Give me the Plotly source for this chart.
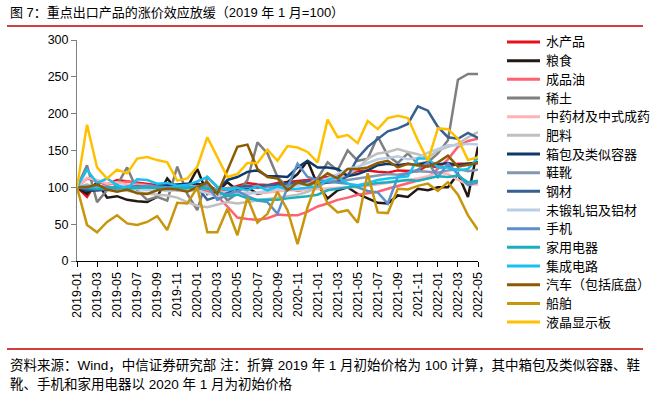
import plotly.graph_objects as go

months = [f"{y}-{m:02d}" for y in (2019, 2020, 2021, 2022) for m in range(1, 13)][:41]

shuichanpin = [100, 87, 108, 104, 110, 108, 106, 105, 103, 102, 101, 100, 101, 96, 95, 97, 102, 106, 104, 103, 106, 107, 108, 110, 112, 114, 116, 118, 122, 123, 121, 120, 123, 123, 122, 130, 127, 128, 132, 132, 133]
liangshi = [100, 91, 107, 86, 88, 83, 81, 80, 87, 112, 96, 100, 125, 91, 94, 107, 96, 100, 91, 94, 103, 107, 118, 136, 103, 85, 96, 100, 91, 85, 79, 78, 89, 87, 98, 96, 100, 100, 118, 87, 155]
chengpinyou = [100, 112, 108, 104, 106, 108, 105, 103, 102, 100, 97, 99, 100, 95, 88, 74, 59, 57, 56, 58, 63, 62, 62, 67, 74, 78, 83, 86, 90, 92, 94, 98, 102, 106, 110, 113, 125, 138, 155, 163, 166]
xitu = [100, 130, 80, 96, 103, 127, 96, 83, 87, 82, 128, 91, 69, 114, 100, 82, 92, 110, 161, 146, 114, 100, 95, 98, 112, 134, 123, 150, 136, 139, 169, 143, 133, 146, 132, 134, 146, 164, 246, 254, 254]
zhongyao = [100, 113, 110, 105, 107, 104, 103, 102, 100, 99, 100, 99, 100, 97, 95, 93, 92, 93, 92, 93, 95, 96, 96, 97, 98, 99, 100, 100, 100, 102, 104, 106, 108, 110, 112, 115, 120, 118, 110, 104, 104]
feiliao = [100, 104, 99, 96, 97, 95, 93, 92, 90, 89, 86, 80, 75, 73, 76, 80, 78, 80, 82, 84, 86, 88, 90, 94, 100, 108, 112, 118, 125, 139, 146, 148, 152, 148, 145, 140, 150, 155, 159, 168, 175]
xiangbao = [100, 95, 96, 97, 98, 99, 100, 101, 102, 103, 104, 105, 105, 103, 96, 110, 114, 121, 123, 115, 115, 114, 127, 136, 127, 127, 125, 115, 118, 123, 130, 132, 130, 132, 130, 134, 131, 133, 130, 132, 134]
xiexue = [100, 102, 100, 101, 99, 100, 102, 101, 100, 99, 100, 101, 100, 98, 97, 99, 100, 101, 99, 100, 102, 103, 104, 105, 106, 107, 108, 110, 112, 113, 115, 118, 117, 120, 122, 121, 120, 123, 125, 122, 124]
gangcai = [100, 97, 96, 97, 98, 100, 101, 100, 99, 98, 97, 99, 100, 83, 88, 92, 100, 102, 100, 103, 104, 105, 106, 108, 105, 106, 108, 115, 140, 155, 165, 176, 180, 186, 210, 204, 182, 168, 166, 174, 167]
lvcai = [100, 101, 100, 98, 99, 97, 98, 96, 97, 95, 96, 95, 96, 92, 88, 90, 92, 91, 93, 95, 97, 99, 102, 105, 108, 112, 118, 125, 128, 133, 138, 140, 142, 138, 140, 147, 152, 157, 157, 159, 158]
shouji = [100, 101, 102, 100, 99, 101, 100, 102, 101, 100, 99, 100, 100, 103, 83, 90, 95, 88, 82, 80, 64, 100, 132, 114, 110, 108, 106, 105, 100, 95, 93, 78, 114, 119, 124, 134, 114, 132, 118, 103, 107]
jiadian = [100, 99, 98, 99, 100, 98, 99, 100, 99, 98, 99, 100, 100, 98, 95, 88, 90, 85, 83, 83, 83, 85, 86, 88, 90, 96, 98, 100, 102, 104, 106, 107, 108, 110, 109, 112, 115, 114, 116, 107, 109]
jicheng = [100, 124, 106, 112, 103, 99, 111, 110, 105, 106, 102, 103, 108, 114, 101, 96, 99, 96, 102, 96, 101, 97, 98, 99, 101, 110, 114, 105, 103, 106, 110, 112, 113, 115, 139, 139, 127, 127, 123, 125, 140]
qiche = [100, 100, 104, 97, 94, 97, 92, 91, 96, 98, 97, 94, 100, 107, 91, 123, 155, 158, 125, 114, 112, 96, 107, 103, 109, 119, 112, 125, 125, 127, 133, 136, 127, 132, 130, 128, 134, 143, 128, 130, 133]
chuanbo = [100, 49, 39, 53, 62, 51, 49, 53, 61, 42, 79, 78, 100, 39, 39, 71, 35, 86, 52, 64, 94, 69, 23, 73, 110, 78, 66, 69, 52, 119, 66, 65, 98, 97, 102, 105, 95, 107, 90, 62, 42]
yejing = [100, 185, 127, 112, 124, 119, 139, 141, 137, 134, 109, 112, 128, 168, 141, 114, 118, 133, 133, 151, 136, 156, 154, 148, 134, 192, 168, 171, 160, 190, 179, 194, 197, 194, 164, 136, 180, 179, 166, 137, 141]

series = [
    ("水产品", shuichanpin, "#E8111B"),
    ("粮食", liangshi, "#231815"),
    ("成品油", chengpinyou, "#FF6170"),
    ("稀土", xitu, "#7F7F7F"),
    ("中药材及中式成药", zhongyao, "#FFB3B7"),
    ("肥料", feiliao, "#BFBFBF"),
    ("箱包及类似容器", xiangbao, "#0E3A6B"),
    ("鞋靴", xiexue, "#8497B0"),
    ("钢材", gangcai, "#376092"),
    ("未锻轧铝及铝材", lvcai, "#B9CDE5"),
    ("手机", shouji, "#5E8FC9"),
    ("家用电器", jiadian, "#18B0C0"),
    ("集成电路", jicheng, "#18C0F0"),
    ("汽车（包括底盘）", qiche, "#8C5B00"),
    ("船舶", chuanbo, "#C8960C"),
    ("液晶显示板", yejing, "#FFC000"),
]

title_text = "图 7：重点出口产品的涨价效应放缓（2019 年 1 月=100）"
note1 = "资料来源：Wind，中信证券研究部 注：折算 2019 年 1 月初始价格为 100 计算，其中箱包及类似容器、鞋"
note2 = "靴、手机和家用电器以 2020 年 1 月为初始价格"

FONT = "Liberation Sans, Arial, Noto Sans CJK SC, sans-serif"
L, R, T, B = 77, 478, 40, 261
W, H = 659, 394

def px(xp):
    return (xp - L) / (R - L)

def py(yp):
    return (B - yp) / (B - T)

fig = go.Figure()
for name, vals, color in series:
    fig.add_trace(go.Scatter(x=months, y=vals, name=name, mode="lines",
                             line=dict(color=color, width=2.5), showlegend=False))

shapes = [
    dict(type="line", xref="paper", yref="paper", x0=px(7), x1=px(643),
         y0=py(26), y1=py(26), line=dict(color="#C00000", width=1.5)),
    dict(type="line", xref="paper", yref="paper", x0=px(7), x1=px(643),
         y0=py(349), y1=py(349), line=dict(color="#C00000", width=1.5)),
]
annotations = [
    dict(text=title_text, xref="paper", yref="paper", x=px(8), y=py(13),
         xanchor="left", yanchor="middle", showarrow=False,
         font=dict(size=13, family=FONT)),
    dict(text=note1, xref="paper", yref="paper", x=px(8), y=py(365),
         xanchor="left", yanchor="middle", showarrow=False,
         font=dict(size=13.5, family=FONT)),
    dict(text=note2, xref="paper", yref="paper", x=px(8), y=py(384),
         xanchor="left", yanchor="middle", showarrow=False,
         font=dict(size=13.5, family=FONT)),
]

# legend (drawn as keys + labels on the right)
for i, (name, vals, color) in enumerate(series):
    yk = 42 + i * 18.67
    shapes.append(dict(type="line", xref="paper", yref="paper",
                       x0=px(507), x1=px(540), y0=py(yk), y1=py(yk),
                       line=dict(color=color, width=3)))
    annotations.append(dict(text=name, xref="paper", yref="paper",
                            x=px(544), y=py(yk), xanchor="left", yanchor="middle",
                            showarrow=False, font=dict(size=13, family=FONT)))

fig.update_layout(
    width=W, height=H,
    margin=dict(l=L, r=W - R, t=T, b=H - B),
    paper_bgcolor="white", plot_bgcolor="white",
    font=dict(family=FONT, size=13, color="#000"),
    showlegend=False,
    xaxis=dict(type="category", range=[0, 40], showgrid=False, showline=True,
               linecolor="#000", linewidth=1, ticks="outside", ticklen=5,
               tickcolor="#000", tickvals=months[::2], ticktext=months[::2],
               tickangle=-90, tickfont=dict(size=12.5), zeroline=False,
               automargin=False),
    yaxis=dict(range=[0, 300], dtick=50, showgrid=False, showline=True,
               linecolor="#7F7F7F", linewidth=1, ticks="outside", ticklen=5,
               tickcolor="#7F7F7F", tickfont=dict(size=12.5), zeroline=False,
               automargin=False),
    shapes=shapes,
    annotations=annotations,
)

fig.write_html("out.html", config={"displayModeBar": False},
               post_script="document.body.style.margin='0';document.body.style.overflow='hidden';")
